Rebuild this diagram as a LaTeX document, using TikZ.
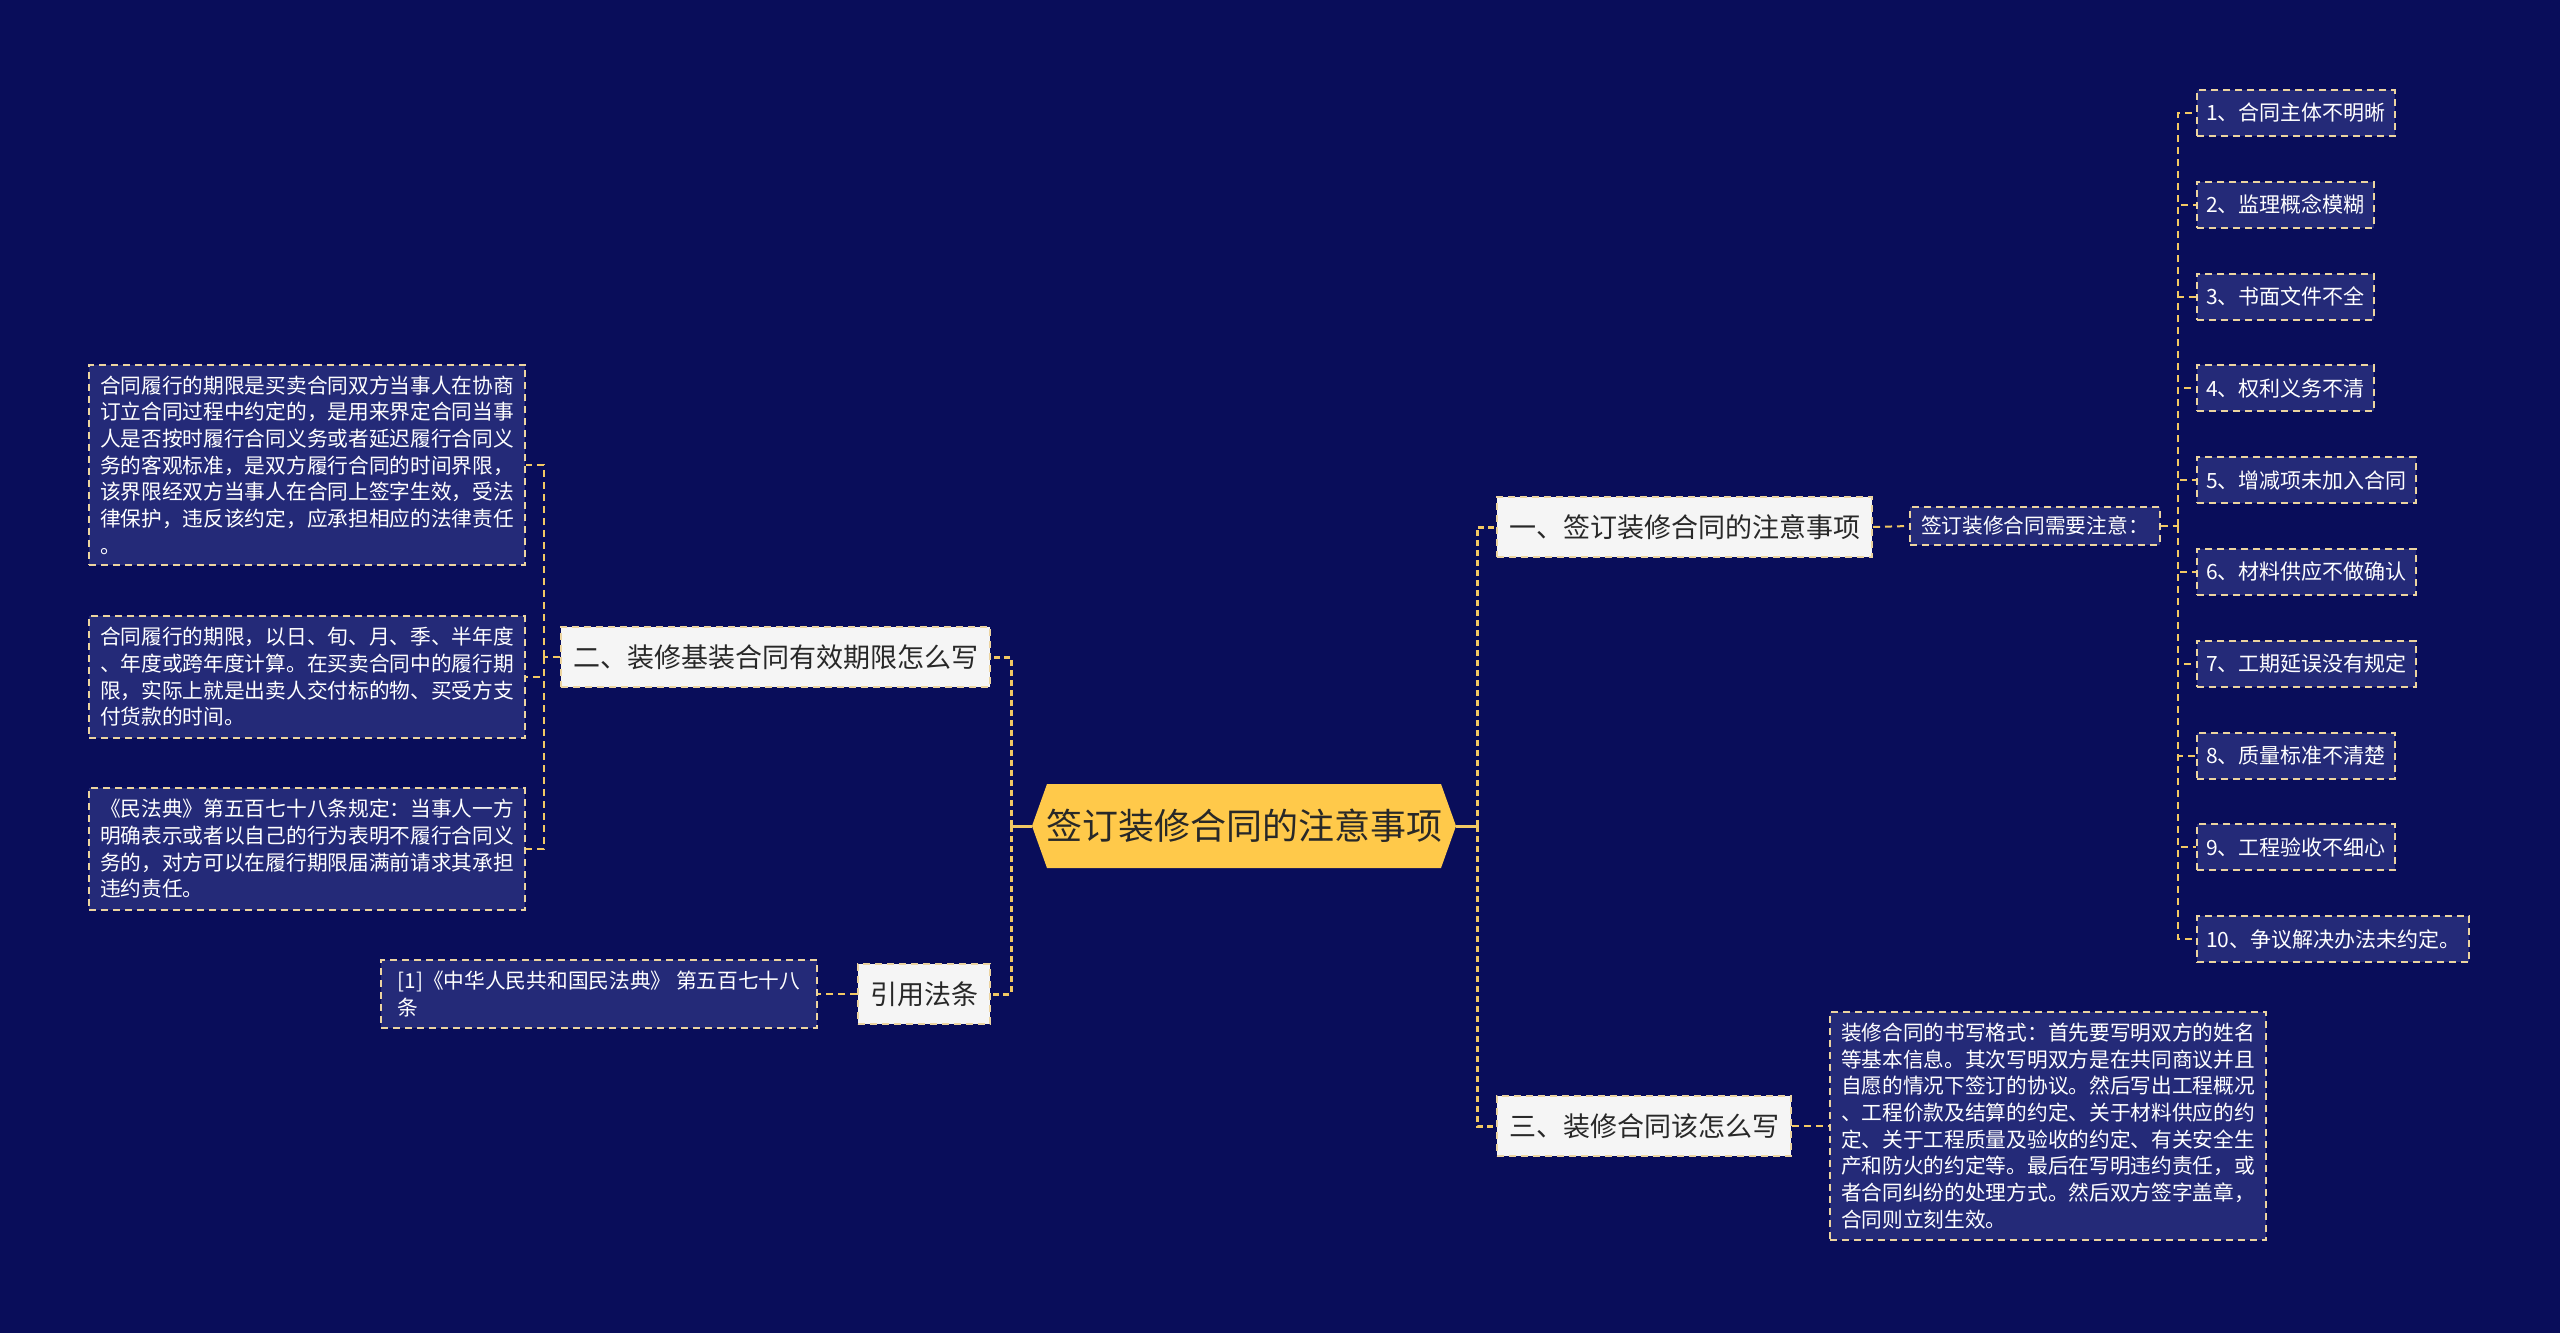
\documentclass[tikz,border=0pt]{standalone}
\usepackage{fontspec}
\setmainfont{Noto Sans CJK SC}
\usepackage{tikz}
\usetikzlibrary{calc}
\definecolor{bgnavy}{RGB}{9,13,90}
\definecolor{leaffill}{RGB}{36,42,120}
\definecolor{rimtan}{RGB}{236,212,160}
\definecolor{linkgold}{RGB}{242,200,100}
\definecolor{rootgold}{RGB}{255,201,74}
\definecolor{inkgrey}{RGB}{40,40,40}

\begin{document}
\begin{tikzpicture}[x=1pt,y=-1pt,
  rootbox/.style={minimum width=424pt,minimum height=85pt,inner sep=0pt,text=inkgrey,font=\fontsize{36}{40}\selectfont},
  branch/.style={draw=rimtan,dash pattern=on 7pt off 5pt,line width=2pt,fill=white!96!black,text=inkgrey,minimum height=60pt,inner xsep=12pt,font=\fontsize{27}{32}\selectfont},
  leaf/.style={draw=rimtan,dash pattern=on 7pt off 5pt,line width=2pt,fill=leaffill,text=white,inner xsep=11pt,inner ysep=11pt,align=left,font=\fontsize{20.7}{26.7}\selectfont},
  item/.style={leaf,minimum height=46pt,inner xsep=9pt,inner ysep=0pt,font=\fontsize{21}{26}\selectfont},
  link/.style={draw=linkgold,line width=2pt,dash pattern=on 7pt off 5pt},
  trunk/.style={draw=linkgold,line width=3pt,dash pattern=on 6pt off 4pt},
  stem/.style={draw=linkgold,line width=3pt}]
\useasboundingbox (0,0) rectangle (2560,1333);
\fill[bgnavy] (0,0) rectangle (2560,1333);
%\draw [help lines,step=100](0,0) grid (2560,1333);
\fill[rootgold] (1047,784) -- (1441,784) -- (1456,826) -- (1441,868) -- (1047,868) -- (1032,826) -- cycle;
\node[rootbox] (root) at (1244,826) {签订装修合同的注意事项};
\coordinate (ltrunk) at (1011,826);
\coordinate (rtrunk) at (1477,826);

\node[branch,anchor=west] (b1) at (1496,527) {一、签订装修合同的注意事项};
\node[branch,anchor=east] (b2) at (991,657) {二、装修基装合同有效期限怎么写};
\node[branch,anchor=west] (b3) at (1496,1126) {三、装修合同该怎么写};
\node[branch,anchor=east] (bref) at (991,994) {引用法条};
\draw[stem] (root.east) -- (rtrunk);
\draw[stem] (root.west) -- (ltrunk);
\draw[trunk] (rtrunk) |- (b1.west);
\draw[trunk] (rtrunk) |- (b3.west);
\draw[trunk] (ltrunk) |- (b2.east);
\draw[trunk] (ltrunk) |- (bref.east);

\node[leaf,anchor=west,inner ysep=9pt] (sub1) at (1909,526) {签订装修合同需要注意：};
\draw[link] (b1.east) -- (sub1.west);
\coordinate (itrunk) at (2178,526);
\draw[link] (sub1.east) -- (itrunk);
\foreach \txt [count=\k] in {合同主体不明晰,监理概念模糊,书面文件不全,权利义务不清,增减项未加入合同,材料供应不做确认,工期延误没有规定,质量标准不清楚,工程验收不细心,争议解决办法未约定。}{
  \node[item,anchor=west] (i\k) at (2196,{113+(\k-1)*91.8}) {\k、\txt};
  \draw[link] (itrunk) |- (i\k.west);
}

\node[leaf,anchor=west] (t4) at (1829,1126) {装修合同的书写格式：首先要写明双方的姓名\\
等基本信息。其次写明双方是在共同商议并且\\
自愿的情况下签订的协议。然后写出工程概况\\
、工程价款及结算的约定、关于材料供应的约\\
定、关于工程质量及验收的约定、有关安全生\\
产和防火的约定等。最后在写明违约责任，或\\
者合同纠纷的处理方式。然后双方签字盖章，\\
合同则立刻生效。};
\draw[link] (b3.east) -- (t4.west);

\node[leaf,anchor=east] (t1) at (526,465) {合同履行的期限是买卖合同双方当事人在协商\\
订立合同过程中约定的，是用来界定合同当事\\
人是否按时履行合同义务或者延迟履行合同义\\
务的客观标准，是双方履行合同的时间界限，\\
该界限经双方当事人在合同上签字生效，受法\\
律保护，违反该约定，应承担相应的法律责任\\
。};
\node[leaf,anchor=east] (t2) at (526,677) {合同履行的期限，以日、旬、月、季、半年度\\
、年度或跨年度计算。在买卖合同中的履行期\\
限，实际上就是出卖人交付标的物、买受方支\\
付货款的时间。};
\node[leaf,anchor=east] (t3) at (526,849) {《民法典》第五百七十八条规定：当事人一方\\
明确表示或者以自己的行为表明不履行合同义\\
务的，对方可以在履行期限届满前请求其承担\\
违约责任。};
\coordinate (b2trunk) at (544,657);
\draw[link] (b2.west) -- (b2trunk);
\draw[link] (b2trunk) |- (t1.east);
\draw[link] (b2trunk) |- (t2.east);
\draw[link] (b2trunk) |- (t3.east);

\node[leaf,anchor=east,minimum width=436pt] (tref) at (818,994) {[1]《中华人民共和国民法典》 第五百七十八\\
条};
\draw[link] (bref.west) -- (tref.east);
\end{tikzpicture}
\end{document}
